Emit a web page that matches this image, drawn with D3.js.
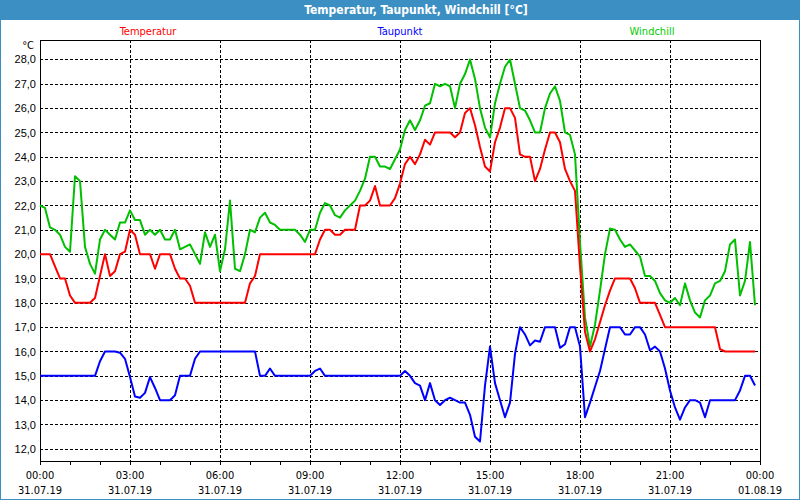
<!DOCTYPE html>
<html>
<head>
<meta charset="utf-8">
<script src="https://cdn.jsdelivr.net/npm/d3@7"></script>
<style>
  body { margin: 0; background: #fff; }
  svg { display: block; font-family: "DejaVu Sans Condensed", "DejaVu Sans", sans-serif; }
  .grid line { stroke: #000; stroke-dasharray: 3,2; shape-rendering: crispEdges; }
  .grid path { display: none; }
</style>
</head>
<body>
<div id="chart"></div>
<script>
// 10-minute readings, 31.07.19 00:00 .. 23:50
const startTime = new Date(2019, 6, 31, 0, 0);
const endTime = new Date(2019, 7, 1, 0, 0);
const stepMinutes = 10;

const temperatur = [
  20.0, 20.0, 20.0, 19.5, 19.0, 19.0, 18.3, 18.0, 18.0, 18.0,
  18.0, 18.2, 19.1, 20.0, 19.1, 19.3, 20.0, 20.1, 21.0, 20.8,
  20.0, 20.0, 20.0, 19.4, 20.0, 20.0, 20.0, 19.4, 19.0, 19.0,
  18.7, 18.0, 18.0, 18.0, 18.0, 18.0, 18.0, 18.0, 18.0, 18.0,
  18.0, 18.0, 18.8, 19.1, 20.0, 20.0, 20.0, 20.0, 20.0, 20.0,
  20.0, 20.0, 20.0, 20.0, 20.0, 20.0, 20.6, 21.0, 21.0, 20.8,
  20.8, 21.0, 21.0, 21.0, 22.0, 22.0, 22.2, 22.8, 22.0, 22.0,
  22.0, 22.3, 22.9, 23.7, 24.0, 23.7, 24.1, 24.7, 24.5, 25.0,
  25.0, 25.0, 25.0, 24.8, 25.0, 25.8, 26.0, 25.3, 24.4, 23.6,
  23.4, 24.6, 25.2, 26.0, 26.0, 25.6, 24.1, 24.0, 24.0, 23.0,
  23.5, 24.3, 25.0, 25.0, 24.6, 23.5, 23.0, 22.6, 19.5, 16.8,
  16.0, 16.5, 17.2, 17.9, 18.5, 19.0, 19.0, 19.0, 19.0, 18.6,
  18.0, 18.0, 18.0, 18.0, 17.5, 17.0, 17.0, 17.0, 17.0, 17.0,
  17.0, 17.0, 17.0, 17.0, 17.0, 17.0, 16.1, 16.0, 16.0, 16.0,
  16.0, 16.0, 16.0, 16.0
];

const taupunkt = [
  15.0, 15.0, 15.0, 15.0, 15.0, 15.0, 15.0, 15.0, 15.0, 15.0,
  15.0, 15.0, 15.6, 16.0, 16.0, 16.0, 15.95, 15.7, 14.95, 14.15,
  14.1, 14.3, 14.95, 14.5, 14.0, 14.0, 14.0, 14.2, 15.0, 15.0,
  15.0, 15.7, 16.0, 16.0, 16.0, 16.0, 16.0, 16.0, 16.0, 16.0,
  16.0, 16.0, 16.0, 16.0, 15.0, 15.0, 15.3, 15.0, 15.0, 15.0,
  15.0, 15.0, 15.0, 15.0, 15.0, 15.2, 15.3, 15.0, 15.0, 15.0,
  15.0, 15.0, 15.0, 15.0, 15.0, 15.0, 15.0, 15.0, 15.0, 15.0,
  15.0, 15.0, 15.0, 15.2, 15.0, 14.7, 14.6, 14.0, 14.7, 14.0,
  13.8, 14.0, 14.1, 14.0, 13.9, 13.9, 13.4, 12.5, 12.3, 14.6,
  16.2, 14.7, 14.0, 13.3, 13.9, 15.9, 17.0, 16.7, 16.25, 16.45,
  16.4, 17.0, 17.0, 17.0, 16.15, 16.3, 17.0, 17.0, 16.2, 13.3,
  13.9, 14.55, 15.2, 16.1, 17.0, 17.0, 17.0, 16.7, 16.7, 17.0,
  17.0, 16.7, 16.05, 16.2, 16.0, 15.3, 14.4, 13.7, 13.2, 13.7,
  14.0, 14.0, 13.9, 13.3, 14.0, 14.0, 14.0, 14.0, 14.0, 14.0,
  14.4, 15.0, 15.0, 14.6
];

const windchill = [
  22.0, 21.9, 21.1, 21.0, 20.8, 20.3, 20.1, 23.2, 23.0, 20.3,
  19.6, 19.2, 20.6, 21.0, 20.8, 20.6, 21.3, 21.3, 21.8, 21.4,
  21.4, 20.8, 21.0, 20.8, 21.0, 20.6, 20.6, 21.0, 20.2, 20.3,
  20.4, 20.0, 19.6, 20.9, 20.3, 20.8, 19.3, 20.2, 22.2, 19.4,
  19.3, 20.0, 21.0, 20.9, 21.5, 21.7, 21.3, 21.2, 21.0, 21.0,
  21.0, 21.0, 20.8, 20.5, 21.0, 21.0, 21.7, 22.1, 22.0, 21.6,
  21.5, 21.8, 22.0, 22.2, 22.6, 23.1, 24.0, 24.0, 23.6, 23.6,
  23.5, 23.9, 24.3, 25.1, 25.5, 25.1, 25.5, 26.1, 26.2, 27.0,
  26.9, 27.0, 26.9, 26.0, 27.0, 27.4, 28.0, 27.2, 26.0, 25.2,
  24.8, 26.2, 27.0, 27.7, 28.0, 27.0, 26.0, 25.9, 25.5, 25.0,
  25.0, 26.0, 26.6, 26.9, 26.3, 25.0, 24.9, 24.1, 20.5, 17.4,
  16.2, 17.1, 18.5, 20.0, 21.05, 21.0, 20.6, 20.3, 20.4, 20.15,
  19.9, 19.1, 19.1, 18.9, 18.4, 18.1, 18.0, 18.2, 17.9, 18.8,
  18.1, 17.6, 17.4, 18.1, 18.3, 18.8, 18.9, 19.3, 20.4, 20.6,
  18.3, 18.9, 20.5, 17.9
];

const yTicks = d3.range(12, 29);
const seriesNames = ["Temperatur", "Taupunkt", "Windchill"];
const seriesColors = ["#ff0000", "#0000ff", "#00c000"];
const legendColors = ["#ff0000", "#0000ff", "#00cc00"];

const totalWidth = 800;
const totalHeight = 500;
const margin = { top: 40, right: 40, bottom: 39, left: 40 };
const width = totalWidth - margin.left - margin.right;
const height = totalHeight - margin.top - margin.bottom;

const svg = d3.select("#chart").append("svg")
  .attr("width", totalWidth)
  .attr("height", totalHeight);

// window frame + title bar
svg.append("rect")
  .attr("x", 0).attr("y", 0)
  .attr("width", totalWidth).attr("height", totalHeight)
  .attr("fill", "#ffffff");
svg.append("rect")
  .attr("x", 0).attr("y", 0)
  .attr("width", totalWidth).attr("height", 20)
  .attr("fill", "#3c8fc3");
svg.append("rect")
  .attr("x", 0.5).attr("y", 0.5)
  .attr("width", totalWidth - 1).attr("height", totalHeight - 1)
  .attr("fill", "none")
  .attr("stroke", "#3c8fc3");
svg.append("text")
  .attr("x", 416).attr("y", 14)
  .attr("text-anchor", "middle")
  .attr("fill", "#fff")
  .style("font-weight", "bold")
  .style("font-size", "12px")
  .text("Temperatur, Taupunkt, Windchill [°C]");

const g = svg.append("g")
  .attr("transform", "translate(" + margin.left + "," + margin.top + ")");

const x = d3.scaleTime().domain([startTime, endTime]).range([0, width]);
const y = d3.scaleLinear().domain([11.5, 28.8]).range([height, 0]);

const fmt = d3.formatLocale({ decimal: ",", thousands: ".", grouping: [3], currency: ["", ""] }).format(".1f");

// horizontal gridlines
g.append("g")
  .attr("class", "grid")
  .call(d3.axisLeft(y).tickValues(yTicks).tickSize(-width).tickFormat(""));

// vertical gridlines every 3 hours
const gridHours = d3.timeHour.every(3).range(startTime, endTime).slice(1);
g.append("g")
  .attr("class", "grid")
  .call(d3.axisBottom(x).tickValues(gridHours).tickSize(height).tickFormat(""));

// y labels
const yAxis = g.append("g")
  .call(d3.axisLeft(y).tickValues(yTicks).tickSize(0).tickPadding(4).tickFormat(fmt));
yAxis.select(".domain").remove();
yAxis.selectAll("text")
  .style("font-size", "11px")
  .attr("fill", "#000");

g.append("text")
  .attr("x", -6).attr("y", 9)
  .attr("text-anchor", "end")
  .style("font-size", "11px")
  .text("°C");

// x axis: hourly ticks, labels every 3 hours
const xAxis = g.append("g")
  .attr("transform", "translate(0," + height + ")")
  .call(d3.axisBottom(x).ticks(d3.timeHour.every(1)).tickSize(4).tickFormat(""));
xAxis.select(".domain").remove();
xAxis.selectAll("line").attr("stroke", "#000").style("shape-rendering", "crispEdges");

const labelHours = d3.timeHour.every(3).range(startTime, d3.timeMinute.offset(endTime, 1));
const xLabels = g.append("g")
  .selectAll("g")
  .data(labelHours)
  .enter()
  .append("g")
  .attr("transform", function(d) { return "translate(" + x(d) + "," + height + ")"; });
xLabels.append("text")
  .attr("y", 18)
  .attr("text-anchor", "middle")
  .style("font-size", "11px")
  .text(d3.timeFormat("%H:%M"));
xLabels.append("text")
  .attr("y", 33)
  .attr("text-anchor", "middle")
  .style("font-size", "11px")
  .text(d3.timeFormat("%d.%m.%y"));

// plot frame
g.append("rect")
  .attr("x", 0).attr("y", 0)
  .attr("width", width).attr("height", height)
  .attr("fill", "none")
  .attr("stroke", "#000")
  .style("shape-rendering", "crispEdges");

// series lines
const series = [temperatur, taupunkt, windchill];
const line = d3.line()
  .x(function(d, i) { return x(d3.timeMinute.offset(startTime, i * stepMinutes)); })
  .y(function(d) { return y(d); });

[2, 0, 1].forEach(function(k) {
  g.append("path")
    .datum(series[k])
    .attr("fill", "none")
    .attr("stroke", seriesColors[k])
    .attr("stroke-width", 2)
    .attr("stroke-linejoin", "round")
    .attr("d", line);
});

// legend row
const legendX = [148, 400, 652];
svg.selectAll(".legend")
  .data(seriesNames)
  .enter()
  .append("text")
  .attr("class", "legend")
  .attr("x", function(d, i) { return legendX[i]; })
  .attr("y", 35)
  .attr("text-anchor", "middle")
  .attr("fill", function(d, i) { return legendColors[i]; })
  .style("font-size", "11px")
  .text(function(d) { return d; });
</script>
</body>
</html>
